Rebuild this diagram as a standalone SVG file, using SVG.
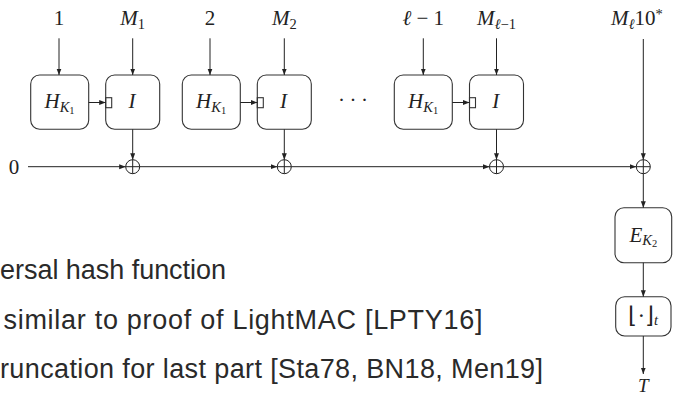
<svg xmlns="http://www.w3.org/2000/svg" width="675" height="397" viewBox="0 0 675 397">
<defs>
<marker id="ah" markerUnits="userSpaceOnUse" markerWidth="7" markerHeight="6" refX="6.5" refY="2.5" orient="auto">
<path d="M0,0 L6.5,2.5 L0,5 z" fill="#222"/>
</marker>
<style>
.box{fill:none;stroke:#333;stroke-width:1.1}
.ln{fill:none;stroke:#222;stroke-width:1}
.ar{fill:none;stroke:#222;stroke-width:1;marker-end:url(#ah)}
.m{font-family:"Liberation Serif","Times New Roman",serif;font-size:21px;fill:#222}
.i{font-style:italic}
.s{font-size:14.5px}
.ss{font-size:10.5px}
.t{font-family:"Liberation Sans",Arial,sans-serif;font-size:27px;fill:#2a2a2a}
</style>
</defs>
<rect width="675" height="397" fill="#fff"/>

<g id="labels">
<text class="m" x="59" y="25" text-anchor="middle">1</text>
<text class="m" x="132.7" y="25" text-anchor="middle"><tspan class="i">M</tspan><tspan class="s" dy="3.5">1</tspan></text>
<text class="m" x="210" y="25" text-anchor="middle">2</text>
<text class="m" x="284.3" y="25" text-anchor="middle"><tspan class="i">M</tspan><tspan class="s" dy="3.5">2</tspan></text>
<text class="m" x="423.3" y="25" text-anchor="middle"><tspan class="i">ℓ</tspan> − 1</text>
<text class="m" x="496.5" y="25" text-anchor="middle"><tspan class="i">M</tspan><tspan class="s" dy="3.5"><tspan class="i">ℓ</tspan>−1</tspan></text>
<text class="m" x="611" y="25"><tspan class="i">M</tspan><tspan class="s i" dy="3.5">ℓ</tspan><tspan dy="-3.5">10</tspan><tspan class="s" dy="-6">*</tspan></text>
<text class="m" x="14" y="173.5" text-anchor="middle">0</text>
<text class="m" x="338 349.5 361" y="106.5">···</text>
<text class="m i" x="643.3" y="392" text-anchor="middle" style="font-size:19px">T</text>
</g>

<g id="h1"><rect class="box" x="30.7" y="75" width="58" height="54.3" rx="9"/><text class="m" x="59.5" y="108.3" text-anchor="middle"><tspan class="i">H</tspan><tspan class="s i" dy="3.5">K</tspan><tspan class="ss" dy="2">1</tspan></text></g>
<g id="i1"><rect class="box" x="105.7" y="75" width="54" height="54.3" rx="9"/><rect class="box" x="105.7" y="97.7" width="6" height="10"/><text class="m i" x="132" y="108.3" text-anchor="middle">I</text></g>
<g id="h2"><rect class="box" x="182.3" y="75" width="58" height="54.3" rx="9"/><text class="m" x="211.1" y="108.3" text-anchor="middle"><tspan class="i">H</tspan><tspan class="s i" dy="3.5">K</tspan><tspan class="ss" dy="2">1</tspan></text></g>
<g id="i2"><rect class="box" x="257.3" y="75" width="54" height="54.3" rx="9"/><rect class="box" x="257.3" y="97.7" width="6" height="10"/><text class="m i" x="283.6" y="108.3" text-anchor="middle">I</text></g>
<g id="h3"><rect class="box" x="394.3" y="75" width="58" height="54.3" rx="9"/><text class="m" x="423.1" y="108.3" text-anchor="middle"><tspan class="i">H</tspan><tspan class="s i" dy="3.5">K</tspan><tspan class="ss" dy="2">1</tspan></text></g>
<g id="i3"><rect class="box" x="469.5" y="75" width="54" height="54.3" rx="9"/><rect class="box" x="469.5" y="97.7" width="6" height="10"/><text class="m i" x="495.8" y="108.3" text-anchor="middle">I</text></g>

<g id="x1"><circle class="ln" cx="132.7" cy="166.7" r="7"/><path class="ln" d="M125.7,166.7 H139.7 M132.7,159.7 V173.7"/></g>
<g id="x2"><circle class="ln" cx="284.3" cy="166.7" r="7"/><path class="ln" d="M277.3,166.7 H291.3 M284.3,159.7 V173.7"/></g>
<g id="x3"><circle class="ln" cx="496.5" cy="166.7" r="7"/><path class="ln" d="M489.5,166.7 H503.5 M496.5,159.7 V173.7"/></g>
<g id="x4"><circle class="ln" cx="643.3" cy="166.7" r="7"/><path class="ln" d="M636.3,166.7 H650.3 M643.3,159.7 V173.7"/></g>

<g id="e"><rect class="box" x="615" y="207.7" width="56.7" height="55" rx="9"/><text class="m" x="643.3" y="241.7" text-anchor="middle"><tspan class="i">E</tspan><tspan class="s i" dy="3.5">K</tspan><tspan class="ss" dy="2">2</tspan></text></g>
<g id="trunc"><rect class="box" x="615.7" y="296.7" width="55.3" height="39.3" rx="9"/><text class="m" x="643.3" y="323" text-anchor="middle" style="font-size:23px">⌊·⌋<tspan class="s i" dy="2">t</tspan></text></g>

<g id="connectors">
<path class="ar" d="M59,38.3 V75"/>
<path class="ar" d="M132.7,38.3 V75"/>
<path class="ar" d="M210,38.3 V75"/>
<path class="ar" d="M284.3,38.3 V75"/>
<path class="ar" d="M423.3,38.3 V75"/>
<path class="ar" d="M496.5,38.3 V75"/>
<path class="ar" d="M88.7,102.5 H105.7"/>
<path class="ar" d="M240.3,102.5 H257.3"/>
<path class="ar" d="M452.3,102.5 H469.5"/>
<path class="ar" d="M132.7,129.3 V159.7"/>
<path class="ar" d="M284.3,129.3 V159.7"/>
<path class="ar" d="M496.5,129.3 V159.7"/>
<path class="ar" d="M28,166.7 H125.7"/>
<path class="ar" d="M139.7,166.7 H277.3"/>
<path class="ar" d="M291.3,166.7 H489.5"/>
<path class="ar" d="M503.5,166.7 H636.3"/>
<path class="ar" d="M643.3,39 V159.7"/>
<path class="ar" d="M643.3,173.7 V207.7"/>
<path class="ar" d="M643.3,262.7 V296.7"/>
<path class="ar" d="M643.3,336 V374"/>
</g>

<g id="notes">
<text class="t" x="0" y="279" textLength="226" lengthAdjust="spacing">ersal hash function</text>
<text class="t" x="3.5" y="329" textLength="479" lengthAdjust="spacing">similar to proof of LightMAC [LPTY16]</text>
<text class="t" x="0" y="378" textLength="543" lengthAdjust="spacing">runcation for last part [Sta78, BN18, Men19]</text>
</g>
</svg>
